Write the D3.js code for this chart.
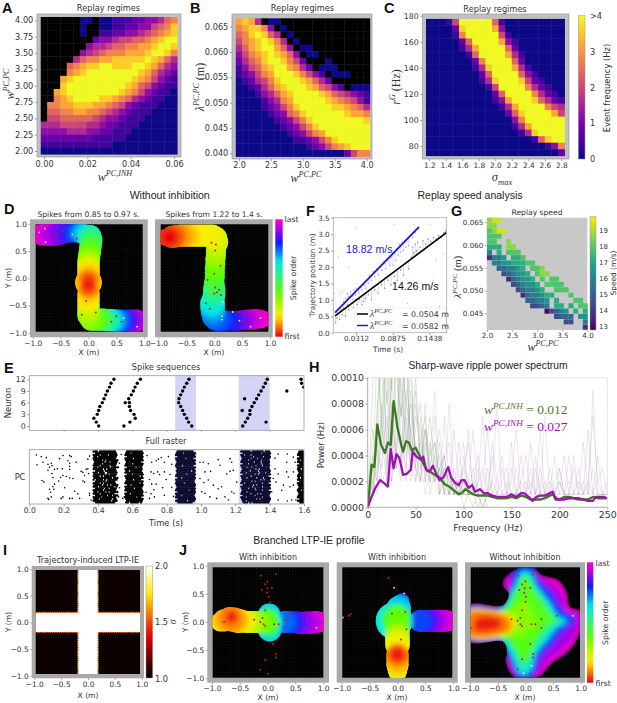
<!DOCTYPE html>
<html><head><meta charset="utf-8">
<script src="https://cdn.jsdelivr.net/npm/d3@7"></script>
<style>html,body{margin:0;padding:0;background:#fff}svg{display:block}</style>
</head><body><script>
// ---------- DATA ----------
// Heatmap levels: 0-9,a => event frequency = level*0.4 Hz; x = no replay (black)
const heatA=["xxxxxx00x001112233467","xxxxxx0xx001122335679","xxxxxx0xx112233456789","xxxxxxxx23345566789aa","xxxxxxx34456677889aa9","xxxxxx34567778889aa97","xxxxx46778899999a9864","xxxx67899aa999aa98643","xxxx789aaaaaaaa986432","xxx89aaaaaaaaa9875321","xxx9aaaaaaaaa98653211","xx89aaaaaaaa987532110","xx789aaaa998764321100","x77889998876532111000","x66778877654321110000","x55666665433211100000","444555544322111000000","333344433221110000000","222222221111100000000","111111111110000000000","000000000000000000000"];
const heatB=["8984x00xxxxxxxxxxxxxx","789973x0xxxxxxxxxxxxx","679a964x0xxxxxxxxxxxx","5789a974x0xxxxxxxxxxx","4689aa863x00xxxxxxxxx","35789a9863x00xxxxxxxx","24679aa9752xxx0xxxxxx","135689aa8742x000xxxxx","123578aaa97531x000xxx","0124579aaa98642xxxxxx","00124689aaa986531x000","000134689aaaa98654321","000013478aaaaa9876531","0000123579aaaaa998764","00000123679aaaaaa9887","000000123579aaaaaaaa9","0000000123579aaaaaaaa","00000000123578aaaaaaa","0000000001123579aaaaa","000000000001235789aaa","000000000000000002577"];
const heatC=["00015aaaaa61000000000","000029aaaa83000000000","000017aaaaa5100000000","0000026aaaa8310000000","00000148aaaa620000000","00000016aaaa841000000","000000027aaaa62000000","0000000149aaa84100000","0000000026aaaa6310000","00000000149aaa9521000","00000000015aaaa742100","000000000026aaaa74210","0000000000138aaa96421","00000000000148aaaa754","000000000000269aaaa85","000000000000037aaaaaa","0000000000000148aaaaa","00000000000000149aaaa","0000000000000000169aa","000000000000000000137","000000000000000000002"];
// Replay speed levels: speed = 13 + level*0.7 m/s; . = no replay
const speedG=["899","88","7899","777","77..8","666.88","4.6.777","1445.667",".445566677","..334456.778","...234556.788","....134556.7.77",".....234556.7777","......234456..777",".......1344566...7","........33445.6...77",".........2234.66.6.77","............02345.6.6","..............2333.55","................22..4","....................1"];
const ticksA_x=[0,.02,.04,.06], ticksA_y=[2,2.25,2.5,2.75,3,3.25,3.5,3.75,4];
const ticksB_x=[2,2.5,3,3.5,4], ticksB_y=[.04,.045,.05,.055,.06,.065];
const ticksC_x=[1.2,1.4,1.6,1.8,2,2.2,2.4,2.6,2.8], ticksC_y=[80,100,120,140,160,180];
const spanE=[[.85,.97],[1.22,1.40]];
const seqT=[.404,.39,.376,.396,.404,.411,.425,.435,.445,.455,.467,.476,.493,.551,.586,.617,.61,.59,.583,.559,.583,.579,.594,.606,.616,.629,.647,.946,.928,.917,.903,.893,.882,.87,.872,.882,.893,.903,.917,.93,1.243,1.258,1.272,1.285,1.285,1.24,1.297,1.31,1.324,1.254,1.336,1.35,1.363,1.375,1.386,1.379,1.5,1.583,1.586,1.598];
const seqN=[0,1,2,3,4,5,6,7,8,9,10,11,12,0,1,2,3,4,5,6,6,7,8,9,10,11,12,0,1,2,3,4,5,6,7,8,9,10,11,12,0,1,2,3,4,4,5,6,7,7,8,9,10,11,12,1,9,12,11,10];
const rasterT=[.041,.07,.099,.045,.08,.109,.128,.132,.118,.196,.235,.244,.225,.235,.273,.176,.147,.109,.132,.163,.192,.235,.235,.302,.312,.331,.341,.345,.322,.074,.085,.138,.171,.182,.196,.215,.235,.254,.312,.322,.147,.143,.118,.124,.109,.128,.113,.186,.196,.25,.235,.283,.264,.293,.351,.36,.351,.138,.341,.351,.206,.535,.525,.52,.525,.52,.545,.554,.686,.713,.739,.752,.768,.787,.709,.725,.748,.758,.787,.70,.713,.739,.725,.68,.709,.70,.729,.787,.777,.797,.81,.82,.83,.84,.83,.994,1.013,1.043,1.023,1.056,1.10,1.169,1.179,1.111,1.15,1.169,1.188,1.043,1.072,1.10,1.12,1.004,1.023,1.052,1.091,1.14,1.16,1.179,1.208,1.192,.994,1.017,1.431,1.45,1.503,1.499,1.538,1.548,1.431,1.45,1.421,1.437,1.499,1.509,1.538,1.48,1.47,1.518,1.538,1.503,1.528,1.553,1.45,1.412];
const rasterR=[.93,.90,.88,.74,.79,.75,.77,.72,.69,.92,.92,.90,.82,.77,.79,.86,.65,.63,.57,.66,.66,.71,.65,.61,.59,.65,.66,.57,.53,.43,.40,.49,.42,.49,.53,.51,.48,.47,.42,.40,.36,.26,.26,.2,.08,.11,.06,.08,.11,.08,.08,.17,.22,.08,.18,.05,.14,.31,.85,.91,.29,.94,.77,.69,.29,.11,.08,.11,.92,.79,.82,.85,.88,.79,.60,.57,.6,.55,.6,.45,.36,.36,.25,.2,.17,.08,.11,.14,.29,.45,.9,.55,.3,.12,.75,.79,.79,.76,.6,.61,.84,.86,.79,.73,.56,.61,.63,.44,.34,.27,.31,.21,.18,.11,.08,.11,.05,.21,.40,.18,.47,.39,.87,.95,.95,.79,.89,.79,.66,.56,.47,.4,.6,.5,.6,.34,.24,.31,.34,.03,.05,.05,.05,.21];
// Burst occupancy: # = spike cell. Each row is one slice of the population.
const burst1=["###.##########.",".#############.","####.####.#####","##.###########.","##############.","#####.#.#######",".######.##.####","#####.########.","####.#####.###.","##.#######.####","######.#.#####.",".#####.#######.","###.###..######","#######.#.####.","####.#.#######.","###########.###","#.####.#.######",".######.#####..","####.#.#######.","#####.##.#.####","###.#########.#",".#####.##.####.","######.#######.","##.####.#.#####","####.########..",".#######.##.###","#####.########.","###.#######.##.","###########.###",".############.."];
const burst2=[".##########","###.#######","###########",".##########","#####.#####","###########",".#########.","####.######","###########",".#####.###.","###########","##.#######.","###########",".###.######","#########.#","###########",".####.####.","###########","#########.#",".##.#######","###########","#####.####.","###########",".##########","###.#######","###########","#######.##.","###########",".##########","##.#####.#."];
const burst3=[".##########.","####.#######","############",".###########","######.####.","############",".###########","############","####.######.","############",".###########","#########.##",".###########","######.#####","############",".##.########","############","###########.","#####.######","############",".###########","############","########.###",".###########","############","###.#######.","############",".###########","#######.####",".#########.."];
const burst4=["######.#######.###",".###########.#####","##.###.###########","#######.#####.####",".#####.###.#######","####.#######.####.","########.###.#####",".###.#######.####.","#########.###.####","###.##.##########.",".########.#.######","#####.####.#######","###.#######.###.##",".#######.#.#######","######.##########.","###.#####.###.####",".###########.#.###","######.#.#########","##.##########.###.",".######.#.########","#######.#####.####","####.###.#########",".########.###.###.","###.##############","######.###.#.#####",".#######.########.","###.#########.####","#########.#.######",".##.##############",".###.#.##########."];
const burst5=[".###","####","####",".###","####","#.##","####",".###","####","####","##.#","####",".###","####","####","#.##","####",".###","####","####",".###","####","##.#","####",".###","####","####",".###","####",".###"];
const burstStart=[.375,.56,.855,1.235,1.565], burstSets=[burst1,burst2,burst3,burst4,burst5];
// F: trajectory spikes
const fBlueT=[.012,.015,.018,.02,.023,.026,.028,.03,.032,.035,.038,.04,.036,.043,.046,.05,.052,.055,.058,.06,.063,.066,.068,.071,.074,.077,.08,.083,.085,.088,.09,.092,.094,.096,.098,.1,.102,.104,.106,.108,.11,.112,.115,.118,.122,.126];
const fBlueP=[.95,1.05,1.2,1.1,1.25,1,1.3,1.15,1.35,1.2,1.4,1.3,1.05,1.45,1.35,1.5,1.75,1.6,1.85,1.7,1.95,1.75,2,1.9,2.1,1.95,2.2,2.05,2.3,2.05,2.4,2.2,2.55,2.35,2.7,2.45,2.75,2.5,2.8,2.6,2.85,2.65,2.95,2.9,3.05,3.15];
const fGrayT=[0,.002,.004,.006,.008,.01,.012,.015,.018,.02,.024,.027,.03,.033,.036,.04,.043,.046,.05,.055,.06,.065,.07,.075,.08,.085,.09,.095,.1,.104,.108,.112,.116,.118,.12,.122,.124,.126,.13,.134,.138,.142,.146,.15,.154,.158,.162,.166,.169];
const fGrayP=[.3,.45,.6,.4,.7,.55,.75,.5,.85,.7,.9,.75,1,.85,1,.85,.95,1.05,1.15,1,1.3,1.2,1.45,1.35,1.6,1.45,1.7,1.6,1.9,1.75,2.1,1.95,2.3,2.6,2.45,2.7,2.5,2.75,2.6,2.8,2.7,2.85,2.78,2.9,2.85,2.95,2.9,3.05,3.1];
const fStrayT=[.01,.006,.02,.03,.06,.09,.13,.15,.14,.16,.165,.05,.08,.12,.035,.11,.155,-.002,.004,.145];
const fStrayP=[1.25,1.2,2,3.2,2.6,3.3,1.3,1.6,.75,.8,2.4,.4,.3,3.3,2.6,.9,2.2,1.2,2.3,3.3];
const fitBlueT=[-.001,.128], fitBlueP=[.61,3.22], fitBlackT=[-.001,.1705], fitBlackP=[.51,3.05];
// H: power spectra
const fG=[0,2,4,7,10,14,18,21,24,27,31,35,37,40,43,46,50,54,58,62,66,70,75,80,85,90,95,98,102,106,110,115,120,125,130,135,140,145,150,155,160,165,170,175,180,185,190,193,197,200,205,210,215,220,225,230,235,240,245,250];
const pG=[0,1.5,3.3,3.1,6.4,4.8,4.2,5,4.8,8.2,6.2,4.8,4.3,5.1,5,4.4,4.6,4,3.4,2.8,2.7,2.5,2.3,1.8,1.6,1.3,1,1.1,1.4,1.2,1,.9,.9,.9,.8,.7,.7,.7,.8,.7,.9,.8,.6,.6,.6,.7,.9,1,.7,.6,.8,.8,.7,.6,.6,.6,.8,.7,.7,.7];
const fP=[0,4,8,13,18,21,24,27,30,33,37,41,45,47,51,55,58,61,65,68,72,75,79,84,87,91,95,98,101,105,109,112,117,121,125,130,135,140,145,150,155,160,163,168,172,176,180,185,190,193,196,200,205,210,215,220,225,230,235,238,242,246,250];
const pP=[0,.8,1.5,2.1,1.8,1.6,4.5,3,4.1,3.8,2.5,2.6,2.9,4.3,3.9,3.7,3.9,2.9,2.8,3.2,2.5,2.1,2.3,3.1,2.3,1.9,1.7,2.1,2.1,1.5,1.7,1.2,1.4,1.1,1.1,.9,.8,.8,.8,1,.8,1.1,1.1,.8,.5,.8,.9,.9,1.1,1.2,.6,.6,.6,.7,.7,.7,.6,.5,.5,.8,.8,.8,.7];
const traceFreq=[0,5,10,15,20,25,30,35,40,45,50,55,60,65,70,75,80,85,90,95,100,105,110,115,120,125,130,135,140,145,150,155,160,165,170,175,180,185,190,195,200,205,210,215,220,225,230,235,240,245,250];
const greenTraces=[[0,3,12,6,14,9,16,7,11,5,9,3,6,4,5,2,3,2,2,1,2,1,1,1,1,1],[0,6,4,15,8,18,6,12,8,6,10,4,4,7,3,4,1,3,1,2,1,1,2,1,0,1],[0,2,8,11,5,13,10,7,14,4,7,6,2,5,2,3,4,1,2,1,1,2,1,1,1,0],[0,9,15,5,12,4,13,9,5,8,4,5,7,2,4,1,2,3,1,1,2,1,0,1,1,1],[0,4,2,8,17,7,4,15,6,3,6,8,3,3,2,3,1,1,2,2,0,1,1,0,1,1],[0,1,7,16,3,10,12,3,8,11,3,2,5,3,5,2,2,1,1,1,1,1,1,1,0,1]];
const purpleTraces=[[0,1,3,5,2,8,3,11,4,6,3,7,2,4,9,2,4,1,6,2,3,5,1,2,7,1,2,1,3,1,5,1,2,4,1,1,6,1,1,2,3,1,4,1,1,2,1,3,1,1,1],[0,2,1,4,7,3,13,5,3,9,4,2,6,3,2,5,1,8,2,1,3,2,6,1,1,3,1,2,4,1,1,3,1,1,5,1,2,1,3,1,1,4,1,1,2,1,2,1,4,1,1],[0,1,5,2,3,10,4,2,7,3,8,4,1,3,7,1,3,2,1,5,1,1,2,4,1,1,5,2,1,1,2,6,1,1,1,3,1,7,1,1,2,1,1,3,1,5,1,1,2,3,1],[0,3,2,6,4,2,5,8,2,12,2,5,3,2,4,6,2,1,3,1,4,1,3,1,2,6,1,1,2,3,1,1,2,1,3,1,1,2,1,4,1,1,2,1,1,1,6,1,1,1,2],[0,1,4,3,9,2,7,3,14,2,5,2,8,1,3,2,4,5,1,2,1,6,1,3,1,1,2,8,1,1,3,1,1,2,1,4,1,1,2,1,3,1,1,1,3,1,1,9,1,1,1],[0,2,3,8,2,6,3,4,9,3,2,4,6,2,2,1,7,2,1,3,5,1,1,2,3,1,4,1,1,2,1,1,4,1,2,1,3,1,1,1,2,1,1,4,1,1,2,7,2,1,1]];
// Spike-order maps: activity fronts as discs [x (m), y (m), radius (m), order 0-1]
const blobsD1=[[-.92,.8,.15,1],[-.84,.8,.19,.98],[-.76,.8,.2,.96],[-.68,.8,.2,.94],[-.6,.8,.2,.91],[-.52,.82,.2,.89],[-.44,.83,.19,.86],[-.36,.83,.18,.83],[-.28,.83,.17,.79],[-.2,.83,.17,.74],[-.12,.82,.18,.69],[-.05,.8,.18,.64],[.03,.77,.2,.58],[.05,.7,.2,.53],[.04,.62,.2,.47],[.03,.54,.2,.43],[.02,.46,.2,.39],[.01,.38,.2,.34],[0,.3,.2,.29],[0,.22,.2,.24],[0,.15,.2,.2],[0,.08,.2,.16],[0,-.08,.24,.14],[0,0,.18,.1],[0,-.2,.18,.1],[0,-.05,.14,.05],[0,-.15,.14,.05],[0,-.12,.1,.02],[0,-.3,.2,.16],[0,-.4,.2,.2],[0,-.5,.2,.24],[0,-.6,.2,.28],[0,-.68,.2,.31],[.05,-.76,.2,.35],[.13,-.76,.2,.4],[.2,-.76,.2,.44],[.27,-.76,.2,.5],[.34,-.77,.2,.57],[.41,-.77,.2,.63],[.48,-.78,.2,.7],[.55,-.78,.2,.75],[.62,-.78,.2,.8],[.7,-.78,.2,.85],[.78,-.78,.2,.9],[.86,-.78,.2,.95],[.93,-.79,.15,1]];
const blobsD2=[[-.8,.75,.1,0],[-.8,.75,.17,.03],[-.88,.75,.15,.04],[-.75,.76,.2,.06],[-.68,.77,.2,.09],[-.6,.78,.2,.12],[-.52,.78,.2,.14],[-.44,.78,.2,.16],[-.36,.78,.2,.18],[-.28,.78,.2,.19],[-.2,.78,.2,.2],[-.12,.78,.2,.2],[-.04,.78,.2,.21],[.03,.74,.2,.22],[.05,.66,.2,.24],[.04,.58,.18,.26],[.03,.5,.18,.28],[.03,.42,.18,.3],[.02,.34,.18,.33],[.02,.26,.18,.36],[.01,.18,.18,.38],[.01,.1,.18,.4],[.01,.02,.18,.43],[0,-.06,.18,.46],[0,-.14,.19,.49],[0,-.22,.2,.53],[0,-.3,.2,.57],[-.02,-.38,.2,.6],[-.03,-.46,.22,.64],[-.03,-.54,.22,.68],[-.02,-.62,.22,.71],[0,-.7,.22,.74],[.03,-.76,.2,.76],[.1,-.78,.2,.77],[.18,-.78,.18,.78],[.26,-.78,.18,.8],[.34,-.78,.18,.83],[.42,-.78,.18,.86],[.5,-.77,.18,.89],[.58,-.76,.18,.92],[.66,-.76,.18,.95],[.74,-.75,.18,.97],[.82,-.75,.17,.99],[.9,-.75,.14,1]];
const blobsJ1=[[.95,0,.18,1],[.87,0,.2,.98],[.79,-.01,.2,.95],[.71,-.01,.2,.92],[.63,-.02,.2,.9],[.55,-.01,.2,.87],[.47,0,.2,.83],[.39,0,.2,.79],[.31,0,.2,.74],[.03,.13,.2,.66],[.04,-.14,.21,.66],[.05,0,.22,.64],[.02,.1,.17,.5],[.03,-.1,.18,.5],[.02,0,.2,.44],[-.01,0,.2,.4],[-.05,0,.2,.38],[-.12,-.01,.2,.35],[-.2,0,.2,.32],[-.28,0,.2,.28],[-.36,0,.2,.24],[-.44,.01,.2,.2],[-.52,.02,.22,.16],[-.6,.04,.22,.12],[-.68,.06,.21,.1],[-.92,0,.1,.22],[-.85,0,.17,.18],[-.78,.03,.2,.14],[-.65,.08,.16,.08],[-.65,.09,.1,.04],[-.64,.09,.06,.01]];
const blobsJ2=[[.97,.02,.17,1],[.89,.02,.19,.98],[.81,.02,.2,.96],[.73,.02,.2,.93],[.65,.02,.2,.9],[.57,.02,.2,.87],[.49,.02,.2,.82],[.41,.02,.2,.77],[.08,.38,.13,.78],[.05,.32,.17,.72],[.02,.24,.22,.66],[-.06,.02,.33,.63],[-.02,.05,.28,.52],[-.02,.02,.24,.42],[0,.1,.18,.38],[0,-.15,.22,.36],[0,-.25,.22,.3],[0,-.32,.22,.25],[0,-.4,.22,.2],[0,-.97,.1,.38],[0,-.9,.16,.28],[0,-.84,.18,.2],[0,-.75,.2,.15],[0,-.65,.2,.12],[0,-.58,.2,.09],[0,-.58,.15,.05],[0,-.58,.11,.02]];
// J3: contour bands, nested, [order, outline in metres]
const outlineJ3=[[-.4,.75],[-.33,.83],[-.1,.97],[.15,.97],[.3,.84],[.6,.75],[.75,.54],[.81,.27],[1,.2],[1,-.17],[.9,-.38],[.75,-.56],[.48,-.74],[.24,-.98],[-.21,-.98],[-.33,-.8],[-.36,-.65],[-.33,-.55],[-.4,-.35],[-1.02,-.35],[-1.02,.3],[-.4,.3],[-.3,.5],[-.4,.62]];
const bandsJ3=[
 [.98,outlineJ3],
 [.9,[[-.3,.85],[-.08,.98],[.12,.98],[.25,.8],[.5,.65],[.68,.42],[.72,.2],[.95,.1],[.9,-.2],[.7,-.45],[.42,-.65],[.2,-.92],[-.18,-.98],[-.3,-.72],[-.38,-.45],[-1.02,-.33],[-1.02,.28],[-.45,.28],[-.3,.58],[-.3,.72]]],
 [.78,[[-.15,.98],[.15,.98],[.25,.75],[.45,.55],[.65,.25],[.9,.05],[.65,-.2],[.5,-.4],[.3,-.6],[.2,-.8],[.15,-.98],[-.15,-.98],[-.25,-.8],[-.35,-.6],[-.5,-.35],[-1.02,-.3],[-1.02,.25],[-.5,.25],[-.3,.55],[-.25,.75]]],
 [.62,[[-.08,.88],[.08,.88],[.2,.65],[.4,.4],[.6,.1],[.75,.02],[.55,-.12],[.4,-.32],[.2,-.55],[.12,-.8],[.05,-.92],[-.1,-.92],[-.2,-.7],[-.3,-.5],[-.45,-.3],[-1.02,-.28],[-1.02,.22],[-.45,.22],[-.3,.45],[-.18,.65]]],
 [.5,[[-.06,.82],[.06,.82],[.17,.6],[.35,.36],[.53,.08],[.62,.02],[.45,-.1],[.28,-.3],[.13,-.55],[.08,-.72],[-.08,-.78],[-.17,-.6],[-.3,-.4],[-.45,-.28],[-1.02,-.27],[-1.02,.21],[-.42,.21],[-.27,.4],[-.17,.6]]],
 [.4,[[-.05,.75],[.05,.75],[.15,.55],[.3,.32],[.48,.05],[.3,-.15],[.15,-.4],[.08,-.6],[-.05,-.65],[-.15,-.5],[-.3,-.3],[-1.02,-.27],[-1.02,.2],[-.4,.2],[-.25,.35],[-.15,.55]]],
 [.33,[[-.02,.4],[.15,.15],[.22,0],[.1,-.15],[-.05,-.25],[-.3,-.27],[-1.02,-.27],[-1.02,.2],[-.3,.2],[-.15,.3]]],
 [.24,[[-1.02,-.27],[-.3,-.22],[-.15,-.1],[-.15,.05],[-.3,.17],[-.55,.2],[-1.02,.2]]],
 [.15,[[-1.02,-.25],[-.35,-.21],[-.22,-.11],[-.24,.05],[-.38,.15],[-.62,.19],[-1.02,.18]]],
 [.09,[[-1.02,-.24],[-.4,-.2],[-.28,-.12],[-.3,.05],[-.45,.14],[-.7,.18],[-1.02,.16]]],
 [.02,[[-.9,-.15],[-.5,-.12],[-.42,-.02],[-.5,.06],[-.7,.1],[-.9,.05]]]
];
// Individual spikes on the maps: x, y
const dotsD1=[[-.46,.87],[-.21,.73],[-.64,.78],[-.57,.8],[-.04,-.42],[.13,-.63],[-.12,-.67],[.41,-.8],[.5,-.7],[.59,-.8]];
const paleD1=[[-.29,.8],[-.78,.91],[-.88,.84],[-.77,.66],[.63,-.73],[.87,-.89]];
const dotsD2=[[-.05,.65],[.03,.62],[.02,.51],[.11,.23],[0,.08],[-.12,-.03],[.02,-.17],[.09,-.21],[.05,-.26],[0,-.28],[.12,-.31],[-.15,-.46],[-.08,-.56],[.45,-.62],[.54,-.67],[.64,-.59],[.87,-.62],[.95,-.67],[.75,-.76],[.51,-.78]];
const paleD2=[[.15,-.43],[.14,-.7],[.14,-.76],[.33,-.62],[.83,-.73],[.65,-.89],[.45,-.78]];
const dotsJ1=[[-.12,.82],[.15,.85],[-.04,.67],[0,.72],[-.1,.57],[0,.6],[.08,.61],[-.01,.52],[.02,.45],[.05,.36],[-.04,.21],[-.24,.04],[-.09,.07],[-.13,0],[-.07,-.04],[-.04,-.07],[.12,-.04],[.2,-.04],[.3,.04],[.38,.12],[.3,-.1],[.36,.05],[-.78,0],[.1,-.39],[.15,-.57],[.15,-.63],[-.04,-.67],[-.13,-.85],[.01,-.92]];
const dotsJ2=[[-.16,.78],[-.84,.14],[-.87,.11],[-.1,.15],[.14,.18],[.38,.15],[.5,.11],[.16,-.13],[.06,-.31],[0,-.59]];
const paleJ2=[[-.06,.61],[.12,.51],[-.98,.08]];
const dotsJ3=[[-.13,.82],[.14,.85],[-.06,.67],[0,.72],[-.11,.57],[-.01,.6],[.09,.61],[-.02,.52],[.01,.45],[0,.36],[-.06,.21],[-.25,.05],[-.09,.07],[-.14,.02],[-.09,-.04],[-.06,-.07],[.11,-.04],[.18,-.04],[.29,.05],[.29,-.1],[-.98,-.1],[.09,-.39],[.14,-.57],[.14,-.63],[-.06,-.66],[-.14,-.84],[.09,-.92],[.57,.11]];
const paleJ3=[[.11,-.78],[-.03,-.91],[.86,.11]];
const mapTicks=[-1,-.5,0,.5,1];
const crossHalfWidth=.18;

// ---------- HELPERS ----------
const W=617,H=703,sans='"DejaVu Sans",sans-serif',arial='"Liberation Sans",Arial,sans-serif',serif='"Liberation Serif",serif',ink='#333';
const svg=d3.select('body').append('svg').attr('width',W).attr('height',H).attr('viewBox',`0 0 ${W} ${H}`);
const defs=svg.append('defs');
[['blur1',2.2],['blur2',2.4],['blur3',.45]].forEach(([id,s])=>defs.append('filter').attr('id',id).attr('x','-10%').attr('y','-10%').attr('width','120%').attr('height','120%').append('feGaussianBlur').attr('stdDeviation',s));
let uid=0;
function T(x,y,s,o={}){const t=svg.append('text').attr('x',x).attr('y',y).text(s)
  .attr('font-family',o.f||sans).attr('font-size',o.s||8.5).attr('fill',o.c||ink).attr('text-anchor',o.a||'middle');
  if(o.w)t.attr('font-weight',o.w); if(o.r!=null)t.attr('transform',`rotate(${o.r} ${x} ${y})`);return t;}
function M(x,y,parts,o={}){ // mathematical label built from real text pieces
  const size=o.s||12, t=svg.append('text').attr('x',x).attr('y',y).attr('font-family',o.f||serif).attr('font-size',size)
   .attr('fill',o.c||ink).attr('text-anchor',o.a||'middle');
  if(o.r!=null)t.attr('transform',`rotate(${o.r} ${x} ${y})`);
  let last=0;parts.forEach(p=>{const target=p.sup?-size*.38:p.sub?size*.28:0;
    const sp=t.append('tspan').attr('dy',target-last).attr('font-size',(p.sup||p.sub)?size*.68:size).text(p.t);
    if(p.i||p.sup||p.sub)sp.attr('font-style','italic'); if(p.ff)sp.attr('font-family',p.ff); last=target;});
  return t;}
function styleAxis(g,size){g.select('.domain').remove();g.selectAll('line').attr('stroke','#666').attr('stroke-width',.6);
  g.selectAll('text').attr('fill',ink).attr('font-family',sans).attr('font-size',size||8.5);}
function bottom(scale,ticks,fmt,y,size,ts=2.2){const g=svg.append('g').attr('transform',`translate(0,${y})`)
  .call(d3.axisBottom(scale).tickValues(ticks).tickFormat(fmt).tickSize(ts).tickPadding(1.5));styleAxis(g,size);return g;}
function left(scale,ticks,fmt,x,size,ts=2.2){const g=svg.append('g').attr('transform',`translate(${x},0)`)
  .call(d3.axisLeft(scale).tickValues(ticks).tickFormat(fmt).tickSize(ts).tickPadding(1.5));styleAxis(g,size);return g;}
function clip(x,y,w,h){const id='c'+(++uid);defs.append('clipPath').attr('id',id).append('rect').attr('x',x).attr('y',y).attr('width',w).attr('height',h);return `url(#${id})`;}
function colorbar(x,y,w,h,fn,stroke){const id='g'+(++uid),lg=defs.append('linearGradient').attr('id',id).attr('x1',0).attr('x2',0).attr('y1',1).attr('y2',0);
  d3.range(0,1.0001,.05).forEach(k=>lg.append('stop').attr('offset',k).attr('stop-color',fn(k)));
  svg.append('rect').attr('x',x).attr('y',y).attr('width',w).attr('height',h).attr('fill',`url(#${id})`).attr('stroke',stroke||'#999').attr('stroke-width',.5);}
const plasma=v=>d3.interpolatePlasma(v);
const level=ch=>ch==='a'?10:+ch;
function heat(frame,inner,rows,xs,ys,color){
  svg.append('rect').attr('x',frame[0]).attr('y',frame[1]).attr('width',frame[2]-frame[0]).attr('height',frame[3]-frame[1]).attr('fill','#bfbfc4').attr('stroke','#9a9a9a').attr('stroke-width',.7);
  const n=rows.length,cw=(inner[2]-inner[0])/21,ch=(inner[3]-inner[1])/n;
  const cells=rows.flatMap((r,j)=>r.split('').map((c,i)=>({i,j,c})));
  svg.append('g').selectAll('rect').data(cells).join('rect')
   .attr('x',d=>xs(d.i)-cw/2).attr('y',d=>ys(d.j)-ch/2).attr('width',cw+.3).attr('height',ch+.3)
   .attr('fill',d=>d.c==='x'?'#000':plasma(level(d.c)/10));
}
const orderColor=d3.scaleLinear().domain([0,.1,.18,.38,.64,.8,.9,1]).range(['#e8000b','#ff8a00','#ffee00','#5cff00','#00e8e8','#0a1cff','#a000e8','#ff00c8']).interpolate(d3.interpolateRgb).clamp(true);
function mapPanel(o){
  const x=d3.scaleLinear().domain([-1,1]).range(o.xr), y=d3.scaleLinear().domain([-1,1]).range(o.yr);
  const [fx0,fy0,fx1,fy1]=o.frame,[ix0,iy0,ix1,iy1]=o.inner;
  svg.append('rect').attr('x',fx0).attr('y',fy0).attr('width',fx1-fx0).attr('height',fy1-fy0).attr('fill','#a9a9a9');
  svg.append('rect').attr('x',ix0).attr('y',iy0).attr('width',ix1-ix0).attr('height',iy1-iy0).attr('fill',o.bg||'#000');
  const cp=clip(ix0,iy0,ix1-ix0,iy1-iy0),g=svg.append('g').attr('clip-path',cp);
  // place-cell lattice
  const lat=d3.range(-1,1.001,.05);
  g.append('path').attr('d',lat.flatMap(a=>lat.map(b=>`M${x(a)},${y(b)}h.01`)).join('')).attr('stroke',o.lat||'#262626').attr('stroke-width',.8).attr('stroke-linecap','round');
  if(o.blobs){const sorted=o.blobs.slice().sort((a,b)=>b[3]-a[3]);
    const put=sel=>sel.selectAll('circle').data(sorted).join('circle')
     .attr('cx',d=>x(d[0])).attr('cy',d=>y(d[1])).attr('r',d=>x(d[2])-x(0));
    // crisp silhouette below, smoothed order field above, kept inside the silhouette
    put(g.append('g')).attr('fill',d=>orderColor(d[3]));
    const mid='m'+(++uid),mk=defs.append('mask').attr('id',mid).attr('maskUnits','userSpaceOnUse').attr('x',0).attr('y',0).attr('width',W).attr('height',H);
    put(mk.append('g')).attr('fill','#fff');
    put(g.append('g').attr('mask',`url(#${mid})`).append('g').attr('filter','url(#blur1)')).attr('fill',d=>orderColor(d[3]));}
  if(o.bands){const id='c'+(++uid),ln=d3.line().x(d=>x(d[0])).y(d=>y(d[1])).curve(d3.curveCatmullRomClosed.alpha(.5));
    defs.append('clipPath').attr('id',id).append('path').attr('d',ln(o.outline));
    const gg=g.append('g').attr('clip-path',`url(#${id})`).append('g').attr('filter','url(#blur2)');
    gg.selectAll('path').data(o.bands).join('path').attr('d',d=>ln(d[1])).attr('fill',d=>orderColor(d[0]));}
  (o.pale||[]).forEach(d=>g.append('circle').attr('cx',x(d[0])).attr('cy',y(d[1])).attr('r',.9).attr('fill','#ffe0ea'));
  (o.dots||[]).forEach(d=>g.append('circle').attr('cx',x(d[0])).attr('cy',y(d[1])).attr('r',1).attr('fill','#c01f2e'));
  bottom(x,mapTicks,d3.format('.1f'),fy1,7.4,1.6);
  if(o.yaxis)left(y,mapTicks,d3.format('.1f'),fx0,7.4,1.6);
  return {x,y,g};
}
const panelLetter=(s,x,y)=>T(x,y,s,{f:arial,w:'bold',s:14.5,a:'start',c:'#111'});

// ---------- A ----------
const ax=d3.scaleLinear().domain([0,.06]).range([44,174]), ay=d3.scaleLinear().domain([2,4]).range([151,20.3]);
heat([37,14,181,157],[40.5,17,177.5,154],heatA,i=>ax(i*.003),j=>ay(4-j*.1));
bottom(ax,ticksA_x,d3.format('.2f'),157,8.2);left(ay,ticksA_y,d3.format('.2f'),37,8.2);
T(108.5,11,'Replay regimes',{s:8.2});
M(115,181,[{t:'w',i:1},{t:'PC,INH',sup:1}],{s:12});
M(14,84,[{t:'w',i:1},{t:'PC,PC',sup:1}],{s:12,r:-90});
// ---------- B ----------
const bx=d3.scaleLinear().domain([2,4]).range([239,366.7]), by=d3.scaleLinear().domain([.04,.065]).range([153.3,26.7]);
heat([232,14,372,159],[235.7,17.7,370,156.3],heatB,i=>bx(2+i*.1),j=>by(.066-j*.0013));
bottom(bx,ticksB_x,d3.format('.1f'),159,8);left(by,ticksB_y,d3.format('.3f'),232,8.2);
T(302.5,11,'Replay regimes',{s:8.2});
M(306,182,[{t:'w',i:1},{t:'PC,PC',sup:1}],{s:12});
M(204,87,[{t:'λ',i:1},{t:'PC,PC',sup:1},{t:' (m)'}],{s:12,r:-90});
// ---------- C ----------
const cx=d3.scaleLinear().domain([1.2,2.8]).range([429.3,561.3]), cy=d3.scaleLinear().domain([80,180]).range([146,15.7]);
heat([422.3,14,569,159],[425.7,18,565.7,156],heatC,i=>cx(1.2+i*.08),j=>cy(175-j*5));
bottom(cx,ticksC_x,d3.format('.1f'),159,7.4);left(cy,ticksC_y,d3.format('d'),422.3,7.8);
T(495,12,'Replay regimes',{s:8.2});
M(502,181,[{t:'σ',i:1},{t:'max',sub:1}],{s:12.5});
M(400,87,[{t:'r',i:1},{t:'G',sup:1},{t:' (Hz)'}],{s:12,r:-90});
colorbar(578.3,15.7,6.7,143.3,k=>plasma(k));
[['>4',19],['3',54.7],['2',90.7],['1',126],['0',162]].forEach(d=>T(590,d[1],d[0],{a:'start',s:8.2}));
T(610,88,'Event frequency (Hz)',{s:8.4,r:-90});

// ---------- D ----------
T(169.7,198.5,'Without inhibition',{f:arial,s:10.5,c:'#222'});
T(470,198.5,'Replay speed analysis',{f:arial,s:10.5,c:'#222'});
mapPanel({xr:[32.7,144.3],yr:[332.7,223.7],frame:[30,219.3,147.7,337.3],inner:[35.7,224.3,142.7,331.7],blobs:blobsD1,dots:dotsD1,pale:paleD1,yaxis:true});
mapPanel({xr:[158.5,270],yr:[332.7,223.7],frame:[155,219.3,272.7,337.3],inner:[160.7,224.3,268.3,331.7],blobs:blobsD2,dots:dotsD2,pale:paleD2});
T(88.5,217,'Spikes from 0.85 to 0.97 s.',{s:7.6});T(214,217,'Spikes from 1.22 to 1.4 s.',{s:7.6});
T(11,278,'Y (m)',{s:7.6,r:-90});T(89,355,'X (m)',{s:7.6});T(214,355,'X (m)',{s:7.6});
colorbar(275.3,219.3,7.4,117.4,k=>orderColor(k),'none');
T(284.5,222,'last',{a:'start',s:7.8});T(284.5,339,'first',{a:'start',s:7.8});T(296,278,'Spike order',{s:7.8,r:-90});

// ---------- E ----------
const ex=d3.scaleLinear().domain([0,1.6]).range([29.3,304]);
const e1y=d3.scaleLinear().domain([0,12]).range([426,379.3]);
const e1=svg.append('g');
e1.selectAll('rect').data(spanE).join('rect').attr('x',d=>ex(d[0])).attr('width',d=>ex(d[1])-ex(d[0])).attr('y',375.7).attr('height',54.6).attr('fill','#d3d3f6');
const e1c=clip(29.3,375.7,274.7,54.6);
svg.append('g').attr('clip-path',e1c).selectAll('circle').data(seqT).join('circle').attr('cx',d=>ex(d)).attr('cy',(d,i)=>e1y(seqN[i])).attr('r',1.7).attr('fill','#000');
svg.append('rect').attr('x',29.3).attr('y',375.7).attr('width',274.7).attr('height',54.6).attr('fill','none').attr('stroke','#999').attr('stroke-width',.8);
left(e1y,[0,3,6,9,12],d3.format('d'),29.3,7.8);
T(166,369.5,'Spike sequences',{s:8.2});T(10.5,403,'Neuron',{s:8.4,r:-90});
bottom(ex,[.2,.4,.6,.8,1,1.2,1.4],()=>'',430.3,8,1.4);
// raster
const e2y=d3.scaleLinear().domain([0,1]).range([502.5,451.5]);
const e2c=clip(29.3,449.7,274.7,54.3),e2=svg.append('g').attr('clip-path',e2c);
const burstPts=burstSets.flatMap((b,k)=>b.flatMap((row,j)=>row.split('').flatMap((ch,i)=>ch==='#'?[[burstStart[k]+(i+(j%2)*.5)*.0095,1-j/29]]:[])));
e2.append('g').selectAll('circle').data(burstPts).join('circle').attr('cx',d=>ex(d[0])).attr('cy',d=>e2y(d[1])).attr('r',1.2).attr('fill','#000');
e2.append('g').selectAll('circle').data(rasterT).join('circle').attr('cx',d=>ex(d)).attr('cy',(d,i)=>e2y(rasterR[i])).attr('r',.8).attr('fill','#000');
e2.append('g').selectAll('rect').data(spanE).join('rect').attr('x',d=>ex(d[0])).attr('width',d=>ex(d[1])-ex(d[0])).attr('y',449.7).attr('height',54.3).attr('fill','#3a3ae8').attr('opacity',.2);
svg.append('rect').attr('x',29.3).attr('y',449.7).attr('width',274.7).attr('height',54.3).attr('fill','none').attr('stroke','#999').attr('stroke-width',.8);
bottom(ex,[0,.2,.4,.6,.8,1,1.2,1.4,1.6],d3.format('.1f'),504,7.6);
T(166,443.5,'Full raster',{s:8.2});T(20,480,'PC',{s:8.2,a:'middle'});T(166,526,'Time (s)',{s:8.4});

// ---------- F ----------
const fx=d3.scaleLinear().domain([-.0037,.1705]).range([333.3,446.7]), fy=d3.scaleLinear().domain([0,3.5]).range([332.7,217.7]);
const fc=clip(333.3,217.7,113.4,115),fg=svg.append('g').attr('clip-path',fc);
const fitBlue=d3.scaleLinear().domain(fitBlueT).range(fitBlueP), fitBlack=d3.scaleLinear().domain(fitBlackT).range(fitBlackP);
const fuzz=(ts,ps,fit,col)=>{fg.append('g').selectAll('line').data(ts).join('line').attr('x1',d=>fx(d)).attr('x2',d=>fx(d))
   .attr('y1',d=>fy(fit(d))).attr('y2',(d,i)=>fy(ps[i])).attr('stroke',col).attr('stroke-width',.6).attr('opacity',.55);
  fg.append('g').selectAll('circle').data(ts).join('circle').attr('cx',d=>fx(d)).attr('cy',(d,i)=>fy(ps[i])).attr('r',.75).attr('fill',col);};
fg.append('g').selectAll('circle').data(fStrayT).join('circle').attr('cx',d=>fx(d)).attr('cy',(d,i)=>fy(fStrayP[i])).attr('r',.6).attr('fill','#aaa');
fuzz(fGrayT,fGrayP,fitBlack,'#8d8d8d');
fuzz(fBlueT,fBlueP,fitBlue,'#9b9bf0');
const fl=d3.line().x(d=>fx(d[0])).y(d=>fy(d[1]));
fg.append('path').attr('d',fl(fitBlackT.map((t,i)=>[t,fitBlackP[i]]))).attr('stroke','#000').attr('stroke-width',1.6).attr('fill','none');
fg.append('path').attr('d',fl(fitBlueT.map((t,i)=>[t,fitBlueP[i]]))).attr('stroke','#1c1cc8').attr('stroke-width',1.8).attr('fill','none');
svg.append('rect').attr('x',333.3).attr('y',217.7).attr('width',113.4).attr('height',115).attr('fill','none').attr('stroke','#aaa').attr('stroke-width',.8);
left(fy,[0,.5,1,1.5,2,2.5,3,3.5],d3.format('.1f'),333.3,7.2);
bottom(fx,[.0312,.0875,.1438],d3.format('.4f'),332.7,7.2);
T(315,275,'Trajectory position (m)',{s:7.4,r:-90});T(388,352,'Time (s)',{s:7.4});
svg.append('rect').attr('x',355).attr('y',308).attr('width',90.5).attr('height',23).attr('fill','#fff').attr('opacity',.88).attr('stroke','#ddd').attr('stroke-width',.5);
[[0,'#000','= 0.0504 m',317],[1,'#1c1cc8','= 0.0582 m',328.5]].forEach(d=>{
  svg.append('line').attr('x1',357).attr('x2',368).attr('y1',d[3]-3).attr('y2',d[3]-3).attr('stroke',d[1]).attr('stroke-width',1.5);
  M(370,d[3],[{t:'λ',i:1},{t:'PC,PC',sup:1}],{s:9.5,a:'start'});
  T(402,d[3],d[2],{s:7.9,a:'start'});});
T(346,252.5,'18.82 m/s',{f:arial,s:10.6,a:'start',c:'#1c1cc8'});
T(392,289.5,'14.26 m/s',{f:arial,s:10.6,a:'start',c:'#111'});

// ---------- G ----------
const gx=d3.scaleLinear().domain([2,4]).range([487,587.5]), gy=d3.scaleLinear().domain([.045,.065]).range([313.3,222.3]);
svg.append('rect').attr('x',486.7).attr('y',217.7).attr('width',100.6).attr('height',112.3).attr('fill','#c8c8c8');
const speedScale=d3.scaleSequential(d3.interpolateViridis).domain([12.8,19.83]);
const gCells=speedG.flatMap((r,j)=>r.split('').flatMap((c,i)=>c==='.'?[]:[{i,j,c}]));
const gw=100.6/21,gh=112.3/21;
svg.append('g').selectAll('rect').data(gCells).join('rect').attr('x',d=>gx(2)+d.i*gw).attr('y',d=>217.7+d.j*gh).attr('width',gw+.2).attr('height',gh-.3).attr('fill',d=>speedScale(13+(+d.c)*.7));
bottom(gx,ticksB_x,d3.format('.1f'),330,7.2,1.8);
left(gy,[.045,.05,.055,.06,.065],d3.format('.3f'),486.7,7.2,1.8);
T(537,214.5,'Replay speed',{s:7.6});
M(543,351,[{t:'w',i:1},{t:'PC,PC',sup:1}],{s:12});
M(460.5,277,[{t:'λ',i:1},{t:'PC,PC',sup:1},{t:' (m)'}],{s:10.5,r:-90});
colorbar(590,216.7,6,113.3,k=>speedScale(12.8+k*7.03));
[13,14,15,16,17,18,19].forEach(v=>T(599,326.7-(v-13)*16.1+2.6,String(v),{a:'start',s:7}));
T(616,273,'Speed (m/s)',{s:7.4,r:-90});

// ---------- H ----------
const hx=d3.scaleLinear().domain([0,250]).range([367.7,607.3]), hy=d3.scaleLinear().domain([0,.001]).range([507.3,377.7]);
const hc=clip(367.7,377.7,239.6,129.6),hg=svg.append('g').attr('clip-path',hc);
const hl=d3.line().x(d=>hx(d[0])).y(d=>hy(d[1]*1e-4));
const hHaze=hg.append('g').attr('filter','url(#blur3)');
purpleTraces.forEach(tr=>hHaze.append('path').attr('d',hl(tr.map((v,i)=>[traceFreq[i],v]))).attr('fill','none').attr('stroke','#8a5a96').attr('stroke-width',.8).attr('opacity',.2));
greenTraces.forEach(tr=>hHaze.append('path').attr('d',hl(tr.map((v,i)=>[traceFreq[i],v]))).attr('fill','none').attr('stroke','#5c8a45').attr('stroke-width',.8).attr('opacity',.25));
hg.append('path').attr('d',hl(fG.map((f,i)=>[f,pG[i]]))).attr('fill','none').attr('stroke','#3b7a20').attr('stroke-width',2.3).attr('stroke-linejoin','round');
hg.append('path').attr('d',hl(fP.map((f,i)=>[f,pP[i]]))).attr('fill','none').attr('stroke','#a011b4').attr('stroke-width',2.3).attr('stroke-linejoin','round');
svg.append('path').attr('d','M367.7,377.7H607.3V507.3').attr('fill','none').attr('stroke','#ddd').attr('stroke-width',.8);
svg.append('path').attr('d','M367.7,377.7V507.3H607.3').attr('fill','none').attr('stroke','#999').attr('stroke-width',.8);
left(hy,[0,.0002,.0004,.0006,.0008,.001],d3.format('.4f'),367.7,9.4);
bottom(hx,[0,50,100,150,200,250],d3.format('d'),507.3,9.4);
T(488,368.5,'Sharp-wave ripple power spectrum',{f:arial,s:10.3,c:'#222'});
T(324,445,'Power (Hz)',{s:8.6,r:-90});T(488,531,'Frequency (Hz)',{s:9.2});
M(484,414,[{t:'w',i:1},{t:'PC,INH',sup:1},{t:' = 0.012'}],{s:13.5,a:'start',c:'#4f7a2b'});
M(484,431,[{t:'w',i:1},{t:'PC,INH',sup:1},{t:' = 0.027'}],{s:13.5,a:'start',c:'#a011b4'});

// ---------- I ----------
const hotCol=d3.scaleLinear().domain([0,.05,.38,.75,1]).range(['#0a0000','#1a0000','#e80000','#ffe800','#ffffff']);
const pI=mapPanel({xr:[34.3,141.7],yr:[675.7,569],frame:[31.7,566,144,678.3],inner:[35.7,570,140,674],bg:'#0a0000',lat:'#2a0a0a',yaxis:true});
const ix=pI.x,iy=pI.y,w=crossHalfWidth;
[[-1,1,w,w],[-1,1,-w,-w]].forEach(d=>pI.g.append('line').attr('x1',ix(d[0])).attr('x2',ix(d[1])).attr('y1',iy(d[2])).attr('y2',iy(d[3])).attr('stroke','#f05a10').attr('stroke-width',2).attr('stroke-dasharray','1.6 .6'));
[[w,w,-1,1],[-w,-w,-1,1]].forEach(d=>pI.g.append('line').attr('x1',ix(d[0])).attr('x2',ix(d[1])).attr('y1',iy(d[2])).attr('y2',iy(d[3])).attr('stroke','#f0a020').attr('stroke-width',2).attr('stroke-dasharray','1.6 .6'));
pI.g.append('rect').attr('x',ix(-w)).attr('y',iy(1.05)).attr('width',ix(w)-ix(-w)).attr('height',iy(-1.05)-iy(1.05)).attr('fill','#fff');
pI.g.append('rect').attr('x',ix(-1.05)).attr('y',iy(w)).attr('width',ix(1.05)-ix(-1.05)).attr('height',iy(-w)-iy(w)).attr('fill','#fff');
T(88,563,'Trajectory-induced LTP-IE',{s:8.2});T(11,622,'Y (m)',{s:7.6,r:-90});T(88,698,'X (m)',{s:7.6});
colorbar(146,566,6.7,112,k=>hotCol(k));
[['2.0',568.7],['1.5',624.7],['1.0',682]].forEach(d=>T(155,d[1],d[0],{a:'start',s:8.2}));
M(176,622,[{t:'σ',i:1}],{s:9.5,r:-90});

// ---------- J ----------
T(309,544,'Branched LTP-IE profile',{f:arial,s:10.5,c:'#222'});
mapPanel({xr:[212,323],yr:[678.3,565.7],frame:[207.3,562.3,329,682.7],inner:[212.7,567.3,323.3,677.7],blobs:blobsJ1,dots:dotsJ1,pale:[[.88,-.1]],yaxis:true});
mapPanel({xr:[341.7,453.3],yr:[678.3,565.7],frame:[336.7,562.3,457.7,682.7],inner:[342.3,567.3,452.3,677.7],blobs:blobsJ2,dots:dotsJ2,pale:paleJ2});
mapPanel({xr:[470,580.7],yr:[678.3,565.7],frame:[465,562.3,585,682.7],inner:[470.7,567.3,580,677.7],bands:bandsJ3,outline:outlineJ3,dots:dotsJ3,pale:paleJ3});
T(268,560,'With inhibition',{s:8});T(397,560,'With inhibition',{s:8});T(525,560,'Without inhibition',{s:8});
T(188,622,'Y (m)',{s:7.6,r:-90});T(268,700,'X (m)',{s:7.6});T(397,700,'X (m)',{s:7.6});T(525,700,'X (m)',{s:7.6});
colorbar(587,562.3,6.3,120.4,k=>orderColor(k),'none');
T(595.5,566,'last',{a:'start',s:7.8});T(595.5,686,'first',{a:'start',s:7.8});T(608,622.7,'Spike order',{s:7.8,r:-90});

// ---------- letters ----------
[['A',2,13],['B',190,13],['C',384,13],['D',4,214],['E',4,373],['F',306,216],['G',451,216],['H',309,372],['I',3,555],['J',179,555]].forEach(d=>panelLetter(...d));
</script></body></html>
